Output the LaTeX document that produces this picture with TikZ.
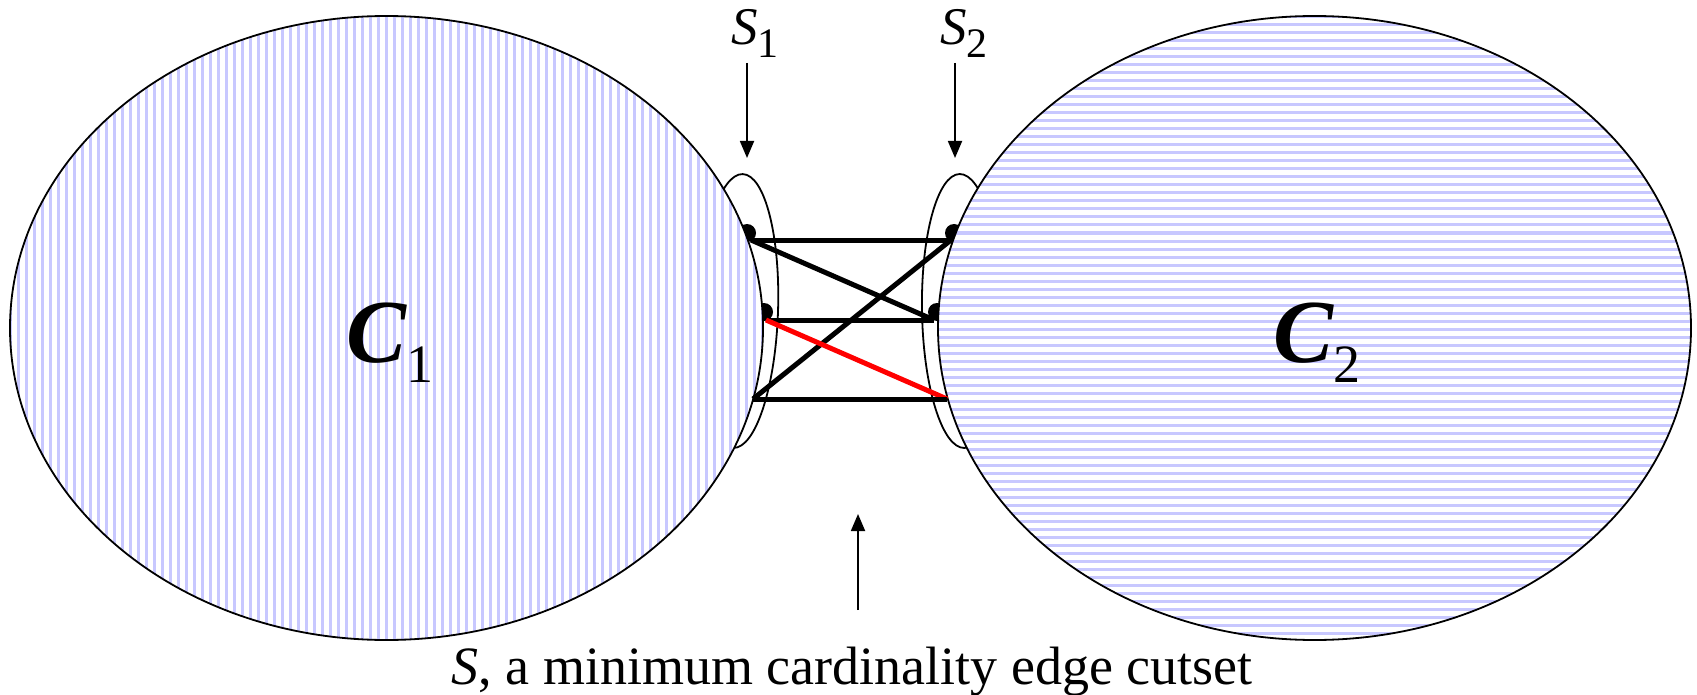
\documentclass[tikz,border=0pt]{standalone}
\usepackage{fontspec}
\setmainfont{Liberation Serif}
\usetikzlibrary{arrows.meta}
\definecolor{stripe}{RGB}{200,200,255}
\begin{document}
\begin{tikzpicture}[x=1pt,y=-1pt,
  outline/.style={line width=1.8pt},
  edge/.style={line width=5pt},
  redge/.style={line width=5pt, red},
  ptr/.style={line width=1.8pt,-{Triangle[length=17pt,width=14pt]}},
  vdot/.style={circle, fill=black, inner sep=0pt, minimum size=18pt},
  hatch/.style={stripe, line width=3pt},
  lab/.style={inner sep=0pt, anchor=base west}]
\useasboundingbox (0,0) rectangle (1697,695);

% small ellipses S1, S2 (partly hidden behind C1, C2)
\draw[outline, rotate around={-2:(738,311)}] (738,311) ellipse [x radius=40pt, y radius=137pt];
\draw[outline, rotate around={1:(962,311)}] (962,311) ellipse [x radius=40pt, y radius=137pt];

% vertices
\node[vdot] (u1) at (747,233) {};
\node[vdot] (u2) at (764,312) {};
\node[vdot] (v1) at (954,233) {};
\node[vdot] (v2) at (937,312) {};

% C1 with vertical stripes
\begin{scope}
\clip (386.5,328) ellipse [x radius=376.5pt, y radius=312pt];
\fill[white] (0,0) rectangle (800,700);
\foreach \x in {10.7,18.7,...,770} \draw[hatch] (\x,0) -- (\x,700);
\end{scope}
\draw[outline] (386.5,328) ellipse [x radius=376.5pt, y radius=312pt];

% C2 with horizontal stripes
\begin{scope}
\clip (1314.5,328) ellipse [x radius=376.5pt, y radius=312pt];
\fill[white] (900,0) rectangle (1697,700);
\foreach \y in {17,25,...,645} \draw[hatch] (900,\y) -- (1697,\y);
\end{scope}
\draw[outline] (1314.5,328) ellipse [x radius=376.5pt, y radius=312pt];

% edge end points
\coordinate (a) at (751,240);
\coordinate (b) at (766,320);
\coordinate (c) at (753,399);
\coordinate (d) at (951,240);
\coordinate (e) at (934,320);
\coordinate (f) at (947,399);

\draw[edge] (a) -- (d);
\draw[edge] (a) -- (e);
\draw[edge] (c) -- (d);
\draw[edge] (b) -- (e);
\draw[redge] (b) -- (f);
\draw[edge] (c) -- (f);

% pointers
\coordinate (p1s) at (747,63);
\coordinate (p1e) at (747,158);
\coordinate (p2s) at (955,63);
\coordinate (p2e) at (955,158);
\coordinate (p3s) at (858,610);
\coordinate (p3e) at (858,514);
\draw[ptr] (p1s) -- (p1e);
\draw[ptr] (p2s) -- (p2e);
\draw[ptr] (p3s) -- (p3e);

% labels
\node[lab] (s1) at (731,45) {\fontsize{53}{53}\selectfont\itshape S\normalfont\fontsize{42}{42}\selectfont\raisebox{-13pt}{1}};
\node[lab] (s2) at (940,45) {\fontsize{53}{53}\selectfont\itshape S\normalfont\fontsize{42}{42}\selectfont\raisebox{-13pt}{2}};
\node[lab] (c1) at (346,362) {\fontsize{90}{90}\selectfont\bfseries\itshape C\normalfont\fontsize{54}{54}\selectfont\raisebox{-20pt}{1}};
\node[lab] (c2) at (1273,362) {\fontsize{90}{90}\selectfont\bfseries\itshape C\normalfont\fontsize{54}{54}\selectfont\raisebox{-20pt}{2}};
\node[inner sep=0pt, anchor=base] (cap) at (852,684) {\fontsize{54}{54}\selectfont\textit{S}, a minimum cardinality edge cutset};
\end{tikzpicture}
\end{document}
